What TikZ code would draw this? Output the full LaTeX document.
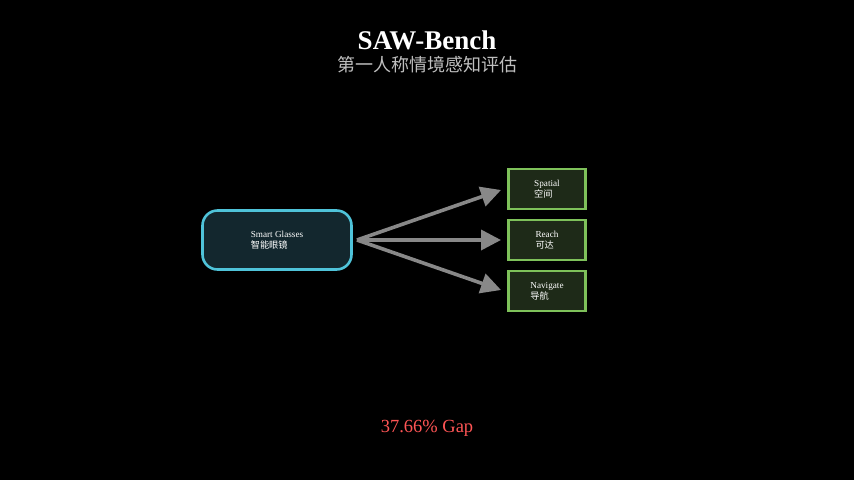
\documentclass[tikz,border=0pt]{standalone}
\usepackage{fontspec}
\setmainfont{Liberation Serif}
\newfontfamily\cjk{Noto Sans CJK SC}
\usetikzlibrary{arrows.meta}
\definecolor{bgc}{HTML}{000000}
\definecolor{mainfill}{HTML}{13272E}
\definecolor{maindraw}{HTML}{4FC3D9}
\definecolor{gfill}{HTML}{1E2A18}
\definecolor{gdraw}{HTML}{7EC15A}
\definecolor{arr}{HTML}{888888}
\definecolor{gapred}{HTML}{FF5555}
\begin{document}
\begin{tikzpicture}[x=1pt,y=-1pt,
  lbl/.style={text=white,font=\fontsize{9.2}{11}\selectfont,align=left},
  task/.style={draw=gdraw,fill=gfill,line width=2.2pt,minimum width=77pt,minimum height=40pt,inner sep=0pt},
  link/.style={draw=arr,line width=3.6pt,-{Triangle[length=20pt,width=20pt]}}]
\fill[bgc] (0,0) rectangle (854,480);
\useasboundingbox (0,0) rectangle (854,480);
\node[text=white,font=\bfseries\fontsize{27}{30}\selectfont] (title) at (427,40) {SAW-Bench};
\node[text=white!75!black,font=\cjk\fontsize{18}{20}\selectfont] (sub) at (427,65) {第一人称情境感知评估};
\node[draw=maindraw,fill=mainfill,line width=2.6pt,rounded corners=15pt,minimum width=149pt,minimum height=59pt,inner sep=0pt] (sg) at (277,240) {};
\node[lbl] at (277,240) {Smart Glasses\\{\cjk 智能眼镜}};
\node[task] (sp) at (547,189) {};
\node[lbl] at (547,189) {Spatial\\{\cjk 空间}};
\node[task] (re) at (547,240) {};
\node[lbl] at (547,240) {Reach\\{\cjk 可达}};
\node[task] (na) at (547,291) {};
\node[lbl] at (547,291) {Navigate\\{\cjk 导航}};
\coordinate (o) at (357,240);
\draw[link] (o) -- (501,190);
\draw[link] (o) -- (501,240);
\draw[link] (o) -- (501,290);
\node[text=gapred,font=\fontsize{18.5}{20}\selectfont] (gap) at (427,428) {37.66\% Gap};
\end{tikzpicture}
\end{document}
